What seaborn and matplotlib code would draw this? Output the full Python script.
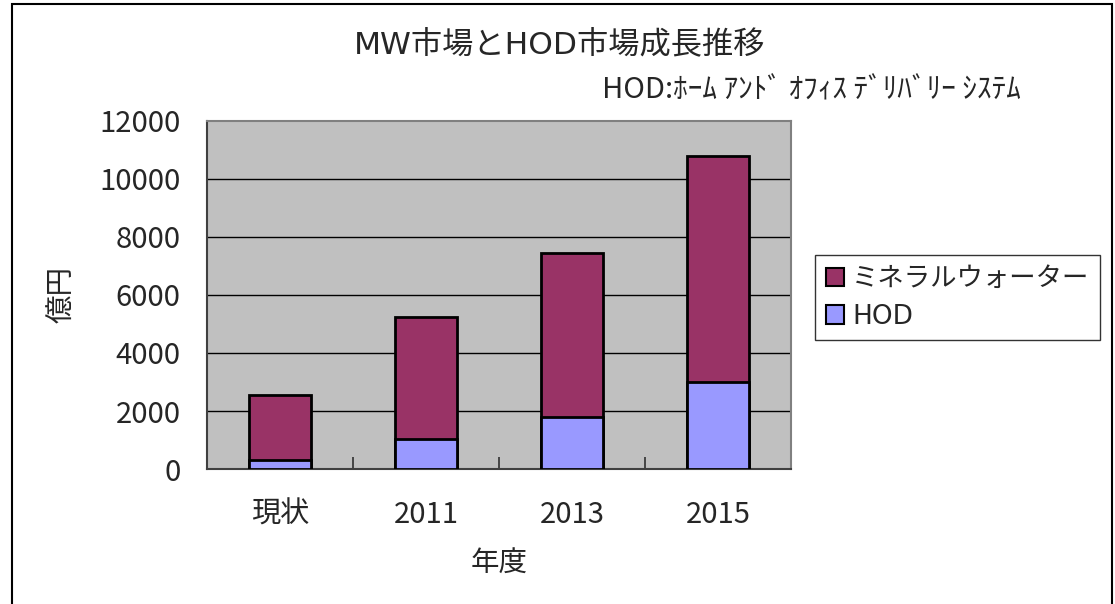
import matplotlib
matplotlib.use("Agg")
import matplotlib.pyplot as plt
import numpy as np
import pandas as pd
import seaborn as sns
from matplotlib.patches import Patch, Rectangle

years = ["現状", "2011", "2013", "2015"]
hod = [300, 1050, 1800, 3000]
mineral_water = [2250, 4200, 5650, 7800]
y_ticks = [0, 2000, 4000, 6000, 8000, 10000, 12000]

MW_COLOR = "#993366"
HOD_COLOR = "#9999FF"

sns.set_theme(style="white")
plt.rcParams["font.family"] = ["Noto Sans CJK JP", "DejaVu Sans"]
LATIN_FIRST = ["DejaVu Sans", "Noto Sans CJK JP"]

df = pd.DataFrame({"year": years, "hod": hod, "mw": mineral_water})
df["total"] = df["hod"] + df["mw"]

fig = plt.figure(figsize=(11.15, 6.04), dpi=100)
ax = fig.add_axes([0.1857, 0.2235, 0.5238, 0.5762])
ax.set_facecolor("#C0C0C0")

sns.barplot(data=df, x="year", y="total", color=MW_COLOR, width=0.42,
            edgecolor="black", linewidth=2, saturation=1, ax=ax, zorder=3)
sns.barplot(data=df, x="year", y="hod", color=HOD_COLOR, width=0.42,
            edgecolor="black", linewidth=2, saturation=1, ax=ax, zorder=3)

ax.set_ylim(0, 12000)
ax.set_xlim(-0.5, len(years) - 0.5)
ax.set_yticks(y_ticks)
for y in y_ticks[1:-1]:
    ax.axhline(y, color="black", linewidth=1, zorder=1)

# category separators on the x axis
ax.set_xticks(np.arange(len(years)))
ax.set_xticks(np.arange(0.5, len(years) - 1, 1), minor=True)
ax.tick_params(axis="x", which="major", length=0, pad=22, labelsize=21)
ax.tick_params(axis="x", which="minor", direction="in", length=9, width=1.2,
               color="#303030", bottom=True)
ax.tick_params(axis="y", direction="in", length=7, width=1, color="#404040", pad=19, labelsize=21)

for name, sp in ax.spines.items():
    sp.set_visible(True)
    sp.set_color("#808080" if name in ("top", "right") else "#404040")
    sp.set_linewidth(1.5)

ax.set_xlabel("年度", fontsize=20.5, labelpad=14)
ax.set_ylabel("億円", fontsize=20.5, labelpad=16)

fig.text(0.502, 0.927, "MW市場とHOD市場成長推移", ha="center", va="center",
         fontsize=22.5, family=LATIN_FIRST)
fig.text(0.728, 0.851, "HOD:ﾎｰﾑ ｱﾝﾄﾞ ｵﾌｨｽ ﾃﾞﾘﾊﾞﾘｰ ｼｽﾃﾑ", ha="center", va="center",
         fontsize=21)

handles = [Patch(facecolor=MW_COLOR, edgecolor="black", linewidth=1.5),
           Patch(facecolor=HOD_COLOR, edgecolor="black", linewidth=1.5)]
leg = fig.legend(handles, ["ミネラルウォーター", "HOD"], loc="upper left",
                 bbox_to_anchor=(0.731, 0.577), frameon=True,
                 fancybox=False, handlelength=0.7, handleheight=0.7,
                 handletextpad=0.3, borderpad=0.4, labelspacing=0.45,
                 borderaxespad=0, prop={"family": LATIN_FIRST, "size": 19})
leg.get_frame().set_edgecolor("black")
leg.get_frame().set_linewidth(1)

fig.patches.append(Rectangle((12 / 1115, -0.02), 1100 / 1115, 1.02 - 4 / 604,
                             transform=fig.transFigure, fill=False,
                             edgecolor="black", linewidth=1.5))

fig.savefig("out.png", dpi=100, facecolor="white")
